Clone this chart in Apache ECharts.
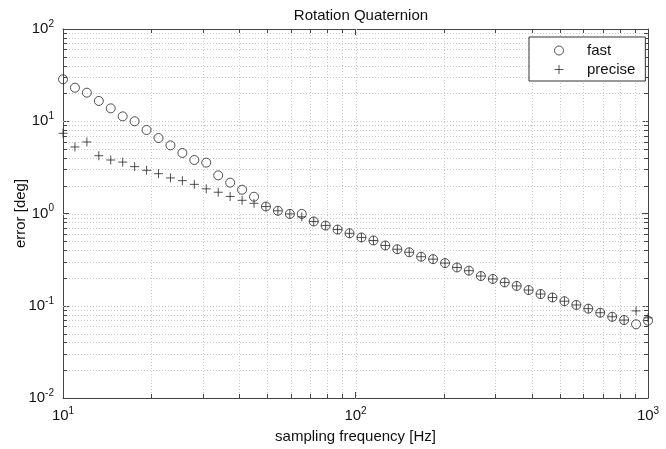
<!DOCTYPE html>
<html>
<head>
<meta charset="utf-8">
<script src="https://cdn.jsdelivr.net/npm/echarts@6/dist/echarts.min.js"></script>
<style>
  html, body { margin: 0; padding: 0; background: #fff; }
  #chart { width: 666px; height: 449px; }
</style>
</head>
<body>
<div id="chart"></div>
<script>
// sampling frequencies (Hz), 50 log-spaced points
const freq = [10, 10.985, 12.068, 13.257, 14.563, 15.999, 17.575, 19.307, 21.210, 23.300,
  25.595, 28.118, 30.888, 33.932, 37.276, 40.949, 44.984, 49.417, 54.287, 59.636,
  65.513, 71.969, 79.060, 86.851, 95.410, 104.81, 115.14, 126.49, 138.95, 152.64,
  167.68, 184.21, 202.36, 222.30, 244.21, 268.27, 294.71, 323.75, 355.65, 390.69,
  429.19, 471.49, 517.95, 568.99, 625.06, 686.65, 754.31, 828.64, 910.30, 1000]

// error [deg]
const fast = [28.5, 23.1, 20.4, 16.6, 13.8, 11.3, 10.0, 8.04, 6.58, 5.48,
  4.53, 3.80, 3.56, 2.59, 2.16, 1.81, 1.52, 1.19, 1.07, 0.99,
  0.99, 0.82, 0.74, 0.67, 0.61, 0.55, 0.51, 0.45, 0.41, 0.38,
  0.34, 0.32, 0.29, 0.26, 0.24, 0.21, 0.195, 0.179, 0.164, 0.148,
  0.134, 0.123, 0.112, 0.102, 0.093, 0.084, 0.076, 0.070, 0.063, 0.069]

const precise = [7.4, 5.26, 5.96, 4.23, 3.80, 3.61, 3.22, 2.94, 2.70, 2.43,
  2.27, 2.07, 1.85, 1.70, 1.53, 1.39, 1.29, 1.19, 1.07, 0.99,
  0.92, 0.82, 0.74, 0.67, 0.61, 0.55, 0.51, 0.45, 0.41, 0.38,
  0.34, 0.32, 0.29, 0.26, 0.24, 0.21, 0.195, 0.179, 0.164, 0.148,
  0.134, 0.123, 0.112, 0.102, 0.093, 0.084, 0.076, 0.070, 0.088, 0.074]

// grid line positions (major + minor)
const xGrid = [10, 20, 30, 40, 50, 60, 70, 80, 90, 100, 200, 300, 400, 500, 600, 700, 800, 900, 1000]
const yGrid = [0.01, 0.02, 0.03, 0.04, 0.05, 0.06, 0.07, 0.08, 0.09,
  0.1, 0.2, 0.3, 0.4, 0.5, 0.6, 0.7, 0.8, 0.9,
  1, 2, 3, 4, 5, 6, 7, 8, 9,
  10, 20, 30, 40, 50, 60, 70, 80, 90, 100]

const FONT = 'Liberation Sans, Arial, sans-serif'
const INK = '#262626'

const plusPath = 'path://M5,0 L5,10 M0,5 L10,5'

// 10^n label
function powLabel (v) {
  let n = Math.round(Math.log10(v))
  return '{b|10}{e|' + n + '}'
}
const powRich = {
  b: { fontSize: 15, color: '#111', fontFamily: FONT },
  e: { fontSize: 10, color: '#111', fontFamily: FONT, padding: [0, 0, 10, 0] }
}

function isMajor (v) {
  let l = Math.log10(v)
  return Math.abs(l - Math.round(l)) < 1e-6
}

// dotted grid and minor ticks, placed through the axes
function renderGrid (params, api) {
  let cs = params.coordSys
  let kind = api.value(2)
  let children = []
  let dotted = { stroke: '#c8c8c8', lineWidth: 1, lineDash: [1, 2] }
  let tick = { stroke: '#444', lineWidth: 1 }
  if (kind === 0) {
    let v = api.value(0)
    let px = Math.round(api.coord([v, 1])[0]) + 0.5
    if (px > cs.x + 1 && px < cs.x + cs.width - 1) {
      children.push({ type: 'line', shape: { x1: px, y1: cs.y, x2: px, y2: cs.y + cs.height }, style: dotted })
      if (!isMajor(v)) {
        children.push({ type: 'line', shape: { x1: px, y1: cs.y + cs.height, x2: px, y2: cs.y + cs.height - 4 }, style: tick })
        children.push({ type: 'line', shape: { x1: px, y1: cs.y, x2: px, y2: cs.y + 4 }, style: tick })
      }
    }
  } else {
    let v = api.value(1)
    let py = Math.round(api.coord([10, v])[1]) + 0.5
    if (py > cs.y + 1 && py < cs.y + cs.height - 1) {
      children.push({ type: 'line', shape: { x1: cs.x, y1: py, x2: cs.x + cs.width, y2: py }, style: dotted })
      if (!isMajor(v)) {
        children.push({ type: 'line', shape: { x1: cs.x, y1: py, x2: cs.x + 4, y2: py }, style: tick })
        children.push({ type: 'line', shape: { x1: cs.x + cs.width, y1: py, x2: cs.x + cs.width - 4, y2: py }, style: tick })
      }
    }
  }
  return { type: 'group', children: children }
}

let gridData = xGrid.map(v => [v, 1, 0]).concat(yGrid.map(v => [10, v, 1]))

let axisLine = { show: true, lineStyle: { color: '#444', width: 1 } }
let axisTick = { show: true, inside: true, length: 6, lineStyle: { color: '#444' } }

let option = {
  backgroundColor: '#fff',
  animation: false,
  title: {
    text: 'Rotation Quaternion',
    left: 356,
    textAlign: 'center',
    top: 3,
    textStyle: { fontSize: 15, fontWeight: 'normal', color: '#111', fontFamily: FONT }
  },
  legend: {
    left: 529,
    top: 37,
    orient: 'vertical',
    backgroundColor: '#fff',
    borderColor: '#333',
    borderWidth: 1,
    padding: [6, 10, 4, 23],
    itemGap: 4,
    itemWidth: 46,
    itemHeight: 9,
    itemStyle: { borderWidth: 1 },
    textStyle: { fontSize: 15, color: '#111', fontFamily: FONT },
    data: ['fast', 'precise']
  },
  grid: { left: 63, right: 18, top: 29, bottom: 51, containLabel: false, outerBoundsMode: 'none' },
  xAxis: [{
    type: 'log', logBase: 10, min: 10, max: 1000, position: 'bottom',
    name: 'sampling frequency [Hz]', nameLocation: 'middle', nameGap: 31,
    nameMoveOverlap: false,
    nameTextStyle: { fontSize: 15, color: '#111', fontFamily: FONT },
    axisLine: axisLine, axisTick: axisTick,
    axisLabel: { formatter: powLabel, rich: powRich, margin: 8 },
    splitLine: { show: false }, minorTick: { show: false }
  }, {
    type: 'log', logBase: 10, min: 10, max: 1000, position: 'top',
    axisLine: axisLine, axisTick: axisTick,
    axisLabel: { show: false }, splitLine: { show: false }
  }],
  yAxis: [{
    type: 'log', logBase: 10, min: 0.01, max: 100, position: 'left',
    name: 'error [deg]', nameLocation: 'middle', nameGap: 35,
    nameMoveOverlap: false,
    nameTextStyle: { fontSize: 15, color: '#111', fontFamily: FONT },
    axisLine: axisLine, axisTick: axisTick,
    axisLabel: { formatter: powLabel, rich: powRich, margin: 9 },
    splitLine: { show: false }, minorTick: { show: false }
  }, {
    type: 'log', logBase: 10, min: 0.01, max: 100, position: 'right',
    axisLine: axisLine, axisTick: axisTick,
    axisLabel: { show: false }, splitLine: { show: false }
  }],
  series: [{
    type: 'custom',
    name: 'grid',
    silent: true,
    z: 1,
    xAxisIndex: 0,
    yAxisIndex: 0,
    renderItem: renderGrid,
    data: gridData
  }, {
    type: 'scatter',
    name: 'fast',
    clip: false,
    z: 3,
    symbol: 'circle',
    symbolSize: 9,
    itemStyle: { color: 'none', borderColor: INK, borderWidth: 1 },
    data: freq.map((f, i) => [f, fast[i]])
  }, {
    type: 'scatter',
    name: 'precise',
    clip: false,
    z: 4,
    symbol: plusPath,
    symbolSize: 9,
    itemStyle: { color: 'none', borderColor: INK, borderWidth: 1 },
    data: freq.map((f, i) => [f, precise[i]])
  }]
}

let chart = echarts.init(document.getElementById('chart'))
chart.setOption(option)
</script>
</body>
</html>
